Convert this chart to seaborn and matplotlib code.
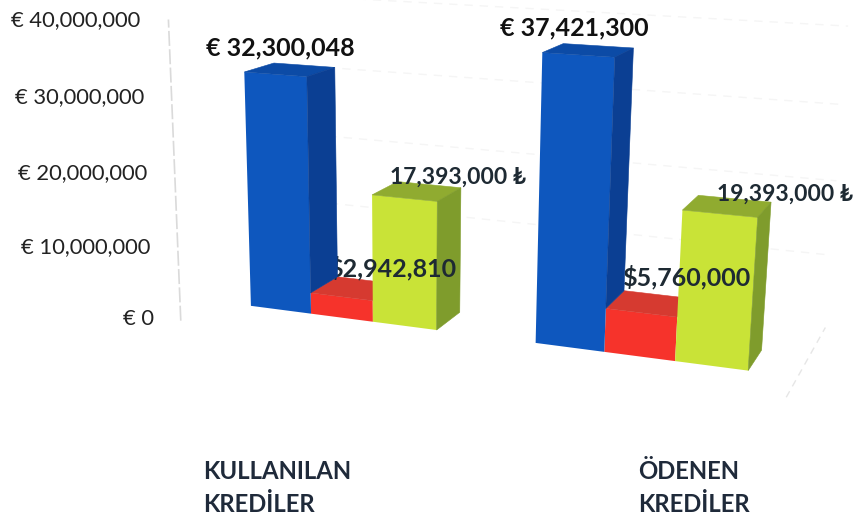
import numpy as np
import pandas as pd
import matplotlib
matplotlib.use("Agg")
import matplotlib.pyplot as plt
from matplotlib.patches import Polygon
from matplotlib.transforms import IdentityTransform, Transform
import seaborn as sns

groups = ["KULLANILAN\nKREDİLER", "ÖDENEN\nKREDİLER"]
blue_vals = [32300048, 37421300]
red_vals = [2942810, 5760000]
green_vals = [17393000, 19393000]
y_ticks = [0, 10000000, 20000000, 30000000, 40000000]

W, H = 856, 519
FONT = ["Lato", "DejaVu Sans"]

# camera fitted to the bar corners: (x, value in millions, depth, 1) -> pixels
CAMERA = np.array([
    [255.934, -0.521846, 38.4942, 341.735],
    [15.4998, -7.48962, -6.60948, 317.668],
    [-0.0652925, -0.00127826, 0.0344759, 1.0],
])


def project(x, v, d=0.0):
    x, v = np.asarray(x, float), np.asarray(v, float)
    d = np.full_like(x, d)
    pts = np.stack([x, v / 1e6, d, np.ones_like(x)], axis=-1)
    h = pts @ CAMERA.T
    return np.stack([h[..., 0] / h[..., 2], H - h[..., 1] / h[..., 2]], axis=-1)


class FrontFace(Transform):
    input_dims = 2
    output_dims = 2

    def transform_non_affine(self, values):
        return project(values[:, 0], values[:, 1])


def face(ax, corners, color, z):
    xy = [project(x, v, d) for x, v, d in corners]
    ax.add_patch(Polygon(xy, closed=True, fc=color, ec=color, lw=0.4,
                         transform=IdentityTransform(), clip_on=False, zorder=z))


df = pd.DataFrame({
    "group": groups * 3,
    "series": ["blue"] * 2 + ["red"] * 2 + ["green"] * 2,
    "value": blue_vals + red_vals + green_vals,
})

sns.set_theme(style="white")
plt.rcParams["font.family"] = FONT

fig = plt.figure(figsize=(W / 100, H / 100), dpi=100)
ax = fig.add_axes([0, 0, 1, 1])
front = {"blue": "#0E57BE", "red": "#F6332B", "green": "#C9E337"}
side = {"blue": "#0B3F93", "red": "#C92E28", "green": "#7F9C2C"}
top = {"blue": "#0C4BA6", "red": "#D63A30", "green": "#90AB30"}
sns.barplot(data=df, x="group", y="value", hue="series", palette=front, width=0.667,
            saturation=1, legend=False, ax=ax)
ax.set_axis_off()

# faint back wall, axis and floor edge
wall_x = [-0.465, 1.48]
for t in y_ticks[1:]:
    ln = project(wall_x, [t, t], 2.5)
    ax.plot(ln[:, 0], ln[:, 1], color="#F5F5F5", lw=1, ls=(0, (6, 5)),
            transform=IdentityTransform(), clip_on=False, zorder=1)
axis_line = project([-0.465, -0.465], [0, 40000000], -1.13)
ax.plot(axis_line[:, 0], axis_line[:, 1], color="#DADADA", lw=1.2, ls=(0, (9, 2)),
        transform=IdentityTransform(), clip_on=False, zorder=1)
floor = np.array([project(1.48, 0, d) for d in (-0.9, 2.5)])
ax.plot(floor[:, 0], floor[:, 1], color="#E6E6E6", lw=1, ls=(0, (5, 4)),
        transform=IdentityTransform(), clip_on=False, zorder=1)

label_offsets = {
    "blue": [(-10, 22), (-14, 22)],
    "red": [(38, 20), (36, 26)],
    "green": [(41, 14), (58, 12)],
}
label_fmt = {"blue": "€ {:,}", "red": "${:,}", "green": "{:,} ₺"}
label_size = {"blue": 18, "red": 18, "green": 16.5}
layer = {"blue": 4, "red": 2, "green": 2.5}
order = ["blue", "red", "green"]

for i, name in enumerate(order):
    next_bars = ax.containers[i + 1] if i < 2 else None
    for j, bar in enumerate(ax.containers[i]):
        x0, x1 = bar.get_x(), bar.get_x() + bar.get_width()
        v = bar.get_height()
        z = layer[name]
        bar.set_transform(FrontFace())
        bar.set_clip_on(False)
        bar.set_zorder(z)
        bar.set_linewidth(0)
        face(ax, [(x0, v, 0), (x1, v, 0), (x1, v, 1), (x0, v, 1)], top[name], z)
        low = next_bars[j].get_height() if next_bars is not None else 0
        if v > low:
            face(ax, [(x1, low, 0), (x1, v, 0), (x1, v, 1), (x1, low, 1)], side[name], z)
        anchor = project((x0 + x1) / 2, v, 0.5)
        ax.annotate(label_fmt[name].format(int(v)), xy=anchor, xycoords="figure pixels",
                    xytext=label_offsets[name][j], textcoords="offset pixels",
                    ha="center", va="center", fontsize=label_size[name], fontweight="bold",
                    color="#111111" if name == "blue" else "#1E2A33", zorder=3,
                    annotation_clip=False)

for t in y_ticks:
    pos = project(-0.565, t, -1.13)
    label = "€ {:,}".format(t)
    ax.annotate(label, xy=pos, xycoords="figure pixels", xytext=(0, -2),
                textcoords="offset pixels", ha="right", va="center",
                fontsize=15.8, color="#222222", annotation_clip=False)

for name, px in zip(groups, [203, 638]):
    ax.annotate(name, xy=(px, H - 488), xycoords="figure pixels", ha="left", va="center",
                fontsize=17.2, fontweight="bold", color="#1F2A3A", linespacing=1.5,
                annotation_clip=False)

fig.savefig("out.png", dpi=100)
